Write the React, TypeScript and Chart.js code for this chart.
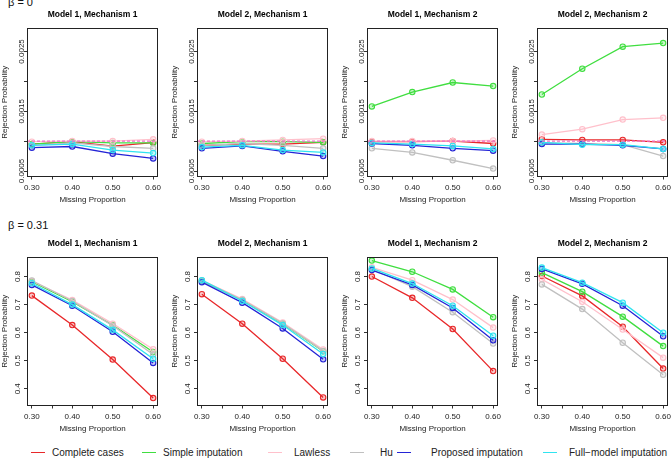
import React, { useEffect, useRef } from "react";
import { Chart, registerables } from "chart.js";

Chart.register(...registerables);

const FONT = '"Liberation Sans", Arial, Helvetica, sans-serif';
Chart.defaults.font.family = FONT;

// ---------------- data ----------------
const missingProportion = [0.3, 0.4, 0.5, 0.6];
const xTickValues = [0.3, 0.35, 0.4, 0.45, 0.5, 0.55, 0.6];
const xTickLabelled = [0.3, 0.4, 0.5, 0.6];

const yTicksBeta0 = [0.0005, 0.001, 0.0015, 0.002, 0.0025];
const yLabelledBeta0 = [0.0005, 0.0015, 0.0025];
const yTicksBeta031 = [0.4, 0.5, 0.6, 0.7, 0.8];
const yLabelledBeta031 = [0.4, 0.5, 0.6, 0.7, 0.8];

const yRangeBeta0 = [0.000408, 0.002892];
const yRangeBeta031 = [0.3404, 0.8696];
const xRange = [0.288, 0.612];
const nominalLevel = 0.001;

const methods = [
  "Complete cases",
  "Simple imputation",
  "Lawless",
  "Hu",
  "Proposed imputation",
  "Full\u2212model imputation",
];

const panelTitles = [
  "Model 1, Mechanism 1",
  "Model 2, Mechanism 1",
  "Model 1, Mechanism 2",
  "Model 2, Mechanism 2",
];

// beta = 0 (order: complete, simple, Lawless, Hu, proposed, full-model)
const beta0_M1Mech1 = [
  [0.00095, 0.00099, 0.000915, 0.000975],
  [0.00095, 0.00099, 0.00097, 0.00097],
  [0.00099, 0.001, 0.001, 0.00103],
  [0.00093, 0.00097, 0.00091, 0.00088],
  [0.00089, 0.00091, 0.00079, 0.00071],
  [0.00093, 0.00095, 0.00085, 0.0008],
];
const beta0_M2Mech1 = [
  [0.00093, 0.00095, 0.00095, 0.00098],
  [0.00096, 0.00099, 0.00099, 0.00098],
  [0.00099, 0.001, 0.00102, 0.00104],
  [0.00093, 0.00096, 0.00093, 0.00088],
  [0.00088, 0.00092, 0.00083, 0.00075],
  [0.0009, 0.00093, 0.00085, 0.00081],
];
const beta0_M1Mech2 = [
  [0.00099, 0.00099, 0.001, 0.00096],
  [0.00158, 0.00182, 0.00198, 0.00192],
  [0.001, 0.001, 0.001, 0.00101],
  [0.00088, 0.00081, 0.00068, 0.00054],
  [0.00096, 0.00093, 0.00088, 0.00084],
  [0.00097, 0.00095, 0.00092, 0.00087],
];
const beta0_M2Mech2 = [
  [0.00103, 0.00102, 0.00102, 0.00098],
  [0.00178, 0.00221, 0.00258, 0.00264],
  [0.00111, 0.0012, 0.00136, 0.00139],
  [0.00097, 0.00096, 0.00094, 0.00075],
  [0.00095, 0.00095, 0.00093, 0.00087],
  [0.00098, 0.00094, 0.00094, 0.00087],
];

// beta = 0.31
const beta031_M1Mech1 = [
  [0.732, 0.627, 0.504, 0.367],
  [0.782, 0.71, 0.627, 0.531],
  [0.784, 0.716, 0.632, 0.541],
  [0.786, 0.713, 0.625, 0.522],
  [0.77, 0.696, 0.603, 0.492],
  [0.776, 0.7, 0.61, 0.507],
];
const beta031_M2Mech1 = [
  [0.737, 0.632, 0.507, 0.369],
  [0.784, 0.716, 0.632, 0.534],
  [0.786, 0.72, 0.636, 0.54],
  [0.786, 0.717, 0.633, 0.535],
  [0.78, 0.707, 0.615, 0.505],
  [0.787, 0.713, 0.627, 0.524],
];
const beta031_M1Mech2 = [
  [0.8, 0.724, 0.613, 0.463],
  [0.857, 0.817, 0.754, 0.655],
  [0.833, 0.787, 0.718, 0.618],
  [0.826, 0.764, 0.673, 0.561],
  [0.823, 0.77, 0.688, 0.573],
  [0.829, 0.775, 0.696, 0.589],
];
const beta031_M2Mech2 = [
  [0.802, 0.731, 0.621, 0.472],
  [0.814, 0.746, 0.657, 0.552],
  [0.79, 0.71, 0.611, 0.511],
  [0.772, 0.684, 0.564, 0.45],
  [0.827, 0.774, 0.696, 0.587],
  [0.832, 0.778, 0.707, 0.6],
];

// ---------------- styles ----------------
const methodColors = [
  "rgb(232,40,42)",
  "rgb(64,222,64)",
  "rgb(255,192,203)",
  "rgb(192,192,192)",
  "rgb(36,36,214)",
  "rgb(48,228,240)",
];
const methodFills = [
  "rgba(232,40,42,0.25)",
  "rgba(64,222,64,0.25)",
  "rgba(255,192,203,0.25)",
  "rgba(192,192,192,0.25)",
  "rgba(36,36,214,0.25)",
  "rgba(48,228,240,0.25)",
];
const refLineColor = "rgb(240,110,200)";

const CANVAS_W = 162;
const CANVAS_H = 205;
const Y_AXIS_W = 27;
const X_AXIS_H = 28.5;

const near = (a: number, b: number) => Math.abs(a - b) < 1e-9;

type PanelProps = {
  left: number;
  top: number;
  title: string;
  series: number[][];
  row: number;
};

function Panel({ left, top, title, series, row }: PanelProps) {
  const ref = useRef<HTMLCanvasElement | null>(null);

  useEffect(() => {
    const canvas = ref.current;
    if (!canvas) return;
    const isTop = row === 0;
    const yTicks = isTop ? yTicksBeta0 : yTicksBeta031;
    const yLabelled = isTop ? yLabelledBeta0 : yLabelledBeta031;
    const yRange = isTop ? yRangeBeta0 : yRangeBeta031;
    const digits = isTop ? 4 : 1;

    const framePlugin = {
      id: "frame",
      afterDatasetsDraw(chart: any) {
        if (!isTop) return;
        const { ctx, chartArea: a, scales } = chart;
        const y = scales.y.getPixelForValue(nominalLevel);
        ctx.save();
        ctx.strokeStyle = refLineColor;
        ctx.lineWidth = 1.2;
        ctx.setLineDash([3, 2]);
        ctx.beginPath();
        ctx.moveTo(a.left, y);
        ctx.lineTo(a.right, y);
        ctx.stroke();
        ctx.restore();
      },
      afterDraw(chart: any) {
        const { ctx, chartArea: a } = chart;
        ctx.save();
        ctx.strokeStyle = "#222";
        ctx.lineWidth = 1;
        const l = Math.round(a.left) + 0.5;
        const t = Math.round(a.top) + 0.5;
        const r = Math.round(a.right) - 0.5;
        const b = Math.round(a.bottom) - 0.5;
        ctx.strokeRect(l, t, r - l, b - t);
        ctx.restore();
      },
    };

    const chart = new Chart(canvas, {
      type: "line",
      data: {
        datasets: series.map((ys, i) => ({
          label: methods[i],
          data: ys.map((y, j) => ({ x: missingProportion[j], y })),
          borderColor: methodColors[i],
          backgroundColor: methodFills[i],
          pointBackgroundColor: methodFills[i],
          pointBorderColor: methodColors[i],
          pointRadius: 2.7,
          pointHoverRadius: 2.7,
          pointBorderWidth: 1.1,
          borderWidth: 1.3,
          tension: 0,
          fill: false,
          order: methods.length - i,
        })),
      },
      options: {
        responsive: false,
        maintainAspectRatio: false,
        animation: false,
        events: [],
        layout: { padding: { left: 0, right: 4, top: 0, bottom: 0 } },
        plugins: {
          legend: { display: false },
          tooltip: { enabled: false },
          title: {
            display: true,
            text: title,
            fullSize: false,
            color: "#000",
            font: { size: 8.5, weight: "bold", family: FONT },
            padding: { top: 9.9, bottom: 7.9 },
          },
        },
        scales: {
          x: {
            type: "linear",
            min: xRange[0],
            max: xRange[1],
            afterBuildTicks: (s: any) => {
              s.ticks = xTickValues.map((v) => ({ value: v }));
            },
            afterFit: (s: any) => {
              s.height = X_AXIS_H;
              s.paddingLeft = 0;
              s.paddingRight = 0;
            },
            grid: {
              drawOnChartArea: false,
              drawTicks: true,
              tickLength: 3,
              color: "#333",
            },
            border: { display: false },
            ticks: {
              autoSkip: false,
              minRotation: 0,
              maxRotation: 0,
              padding: 3.2,
              color: "#222",
              font: { size: 8, family: FONT },
              callback: (v: any) =>
                xTickLabelled.some((l) => near(l, Number(v))) ? Number(v).toFixed(2) : "",
            },
            title: {
              display: true,
              text: "Missing Proportion",
              color: "#222",
              font: { size: 8, family: FONT },
              padding: { top: 0, bottom: 0.7 },
            },
          },
          y: {
            type: "linear",
            min: yRange[0],
            max: yRange[1],
            afterBuildTicks: (s: any) => {
              s.ticks = yTicks.map((v) => ({ value: v }));
            },
            afterFit: (s: any) => {
              s.width = Y_AXIS_W;
              s.paddingTop = 0;
              s.paddingBottom = 0;
            },
            grid: {
              drawOnChartArea: false,
              drawTicks: true,
              tickLength: 3,
              color: "#333",
            },
            border: { display: false },
            ticks: {
              autoSkip: false,
              minRotation: 90,
              maxRotation: 90,
              crossAlign: "center",
              padding: isTop ? -10.5 : 0.6,
              color: "#222",
              font: { size: 8, family: FONT },
              callback: (v: any) =>
                yLabelled.some((l) => near(l, Number(v))) ? Number(v).toFixed(digits) : "",
            },
            title: {
              display: true,
              text: "Rejection Probability",
              color: "#222",
              font: { size: 8, family: FONT },
              padding: 0,
            },
          },
        },
      } as any,
      plugins: [framePlugin],
    });
    return () => chart.destroy();
  }, [left, top, title, series, row]);

  return (
    <canvas
      ref={ref}
      width={CANVAS_W}
      height={CANVAS_H}
      style={{ position: "absolute", left, top, width: CANVAS_W, height: CANVAS_H }}
    />
  );
}

const topSeries = [beta0_M1Mech1, beta0_M2Mech1, beta0_M1Mech2, beta0_M2Mech2];
const bottomSeries = [beta031_M1Mech1, beta031_M2Mech1, beta031_M1Mech2, beta031_M2Mech2];
const colLefts = [0, 170, 340, 510];
const rowTops = [0, 229];

const legendLineX = [31, 142, 268, 350, 397, 543];
const legendTextX = [52, 163, 294, 380, 431, 569];
const LEGEND_Y = 453;

export default function App() {
  return (
    <div
      style={{
        position: "absolute",
        left: 0,
        top: 0,
        width: 672,
        height: 460,
        overflow: "hidden",
        background: "#fff",
        fontFamily: FONT,
        color: "#111",
      }}
    >
      <div style={{ position: "absolute", left: 8, top: -2.8, fontSize: 11, lineHeight: "11px", whiteSpace: "nowrap" }}>
        β = 0
      </div>
      <div style={{ position: "absolute", left: 8, top: 219.7, fontSize: 11, lineHeight: "11px", whiteSpace: "nowrap" }}>
        β = 0.31
      </div>
      {topSeries.map((s, i) => (
        <Panel key={"t" + i} left={colLefts[i]} top={rowTops[0]} title={panelTitles[i]} series={s} row={0} />
      ))}
      {bottomSeries.map((s, i) => (
        <Panel key={"b" + i} left={colLefts[i]} top={rowTops[1]} title={panelTitles[i]} series={s} row={1} />
      ))}
      {methods.map((m, i) => (
        <React.Fragment key={m}>
          <div
            style={{
              position: "absolute",
              left: legendLineX[i],
              top: LEGEND_Y - 0.75,
              width: 14,
              height: 0,
              borderTop: `1.5px solid ${methodColors[i]}`,
            }}
          />
          <div
            style={{
              position: "absolute",
              left: legendTextX[i],
              top: LEGEND_Y - 6,
              fontSize: 10,
              lineHeight: "12px",
              whiteSpace: "nowrap",
              color: "#222",
            }}
          >
            {m}
          </div>
        </React.Fragment>
      ))}
    </div>
  );
}
